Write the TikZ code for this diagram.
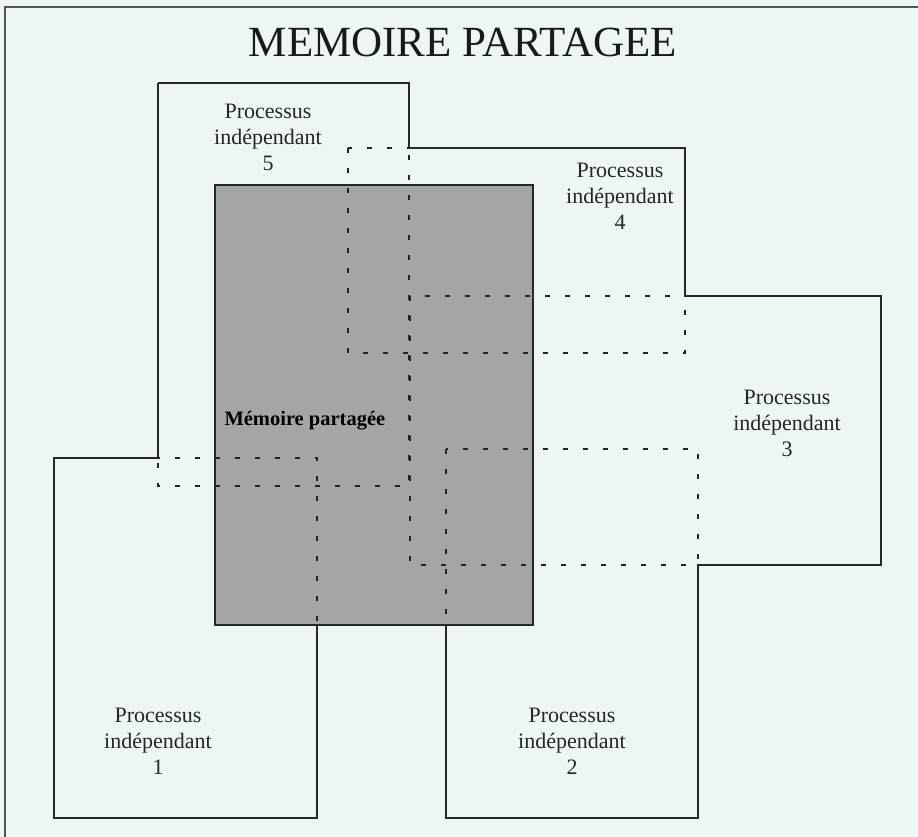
\documentclass[tikz,border=0pt]{standalone}
\usepackage{fontspec}
\setmainfont{Liberation Serif}
\definecolor{bgc}{RGB}{238,245,247}
\definecolor{linec}{RGB}{40,40,40}
\definecolor{memc}{RGB}{162,166,168}
\begin{document}
\begin{tikzpicture}[x=1pt,y=-1pt,
  solidline/.style={draw=linec,line width=1.6pt,line join=miter},
  dashline/.style={draw=linec!90!black,line width=1.7pt,dash pattern=on 5pt off 15pt},
  lbl/.style={align=center,font=\fontsize{22}{26}\selectfont,text=black!85}]
\useasboundingbox (0,0) rectangle (918,837);
\fill[bgc] (0,0) rectangle (918,837);
% frame
\draw[draw=linec!80,line width=1.4pt] (918,7) -- (5,7) -- (5,837);
% shared memory
\draw[solidline,fill=memc] (215,185) rectangle (533,625);
% process rectangles (dashed inner edges)
\draw[dashline] (158,83) rectangle (409,486);
\draw[dashline] (348,148) rectangle (685,353);
\draw[dashline] (410,296) rectangle (881,565);
\draw[dashline] (54,458) rectangle (317,818);
\draw[dashline] (446,449) rectangle (698,818);
% union outline
\draw[solidline] (158,83) -- (409,83) -- (409,148) -- (685,148) -- (685,296)
  -- (881,296) -- (881,565) -- (698,565) -- (698,818) -- (446,818) -- (446,625);
\draw[solidline] (317,625) -- (317,818) -- (54,818) -- (54,458) -- (158,458) -- (158,83);
% title
\node[anchor=base,font=\fontsize{43}{50}\selectfont,text=black!90] (title) at (463,57) {MEMOIRE PARTAGEE};
% labels
\node[lbl] (p5) at (268,137) {Processus\\indépendant\\5};
\node[lbl] (p4) at (620,196) {Processus\\indépendant\\4};
\node[lbl] (p3) at (787,423) {Processus\\indépendant\\3};
\node[lbl] (p1) at (158,741) {Processus\\indépendant\\1};
\node[lbl] (p2) at (572,741) {Processus\\indépendant\\2};
\node[anchor=base west,font=\fontsize{20.5}{24}\selectfont\bfseries] (mem) at (221,425) {Mémoire partagée};
\end{tikzpicture}
\end{document}
